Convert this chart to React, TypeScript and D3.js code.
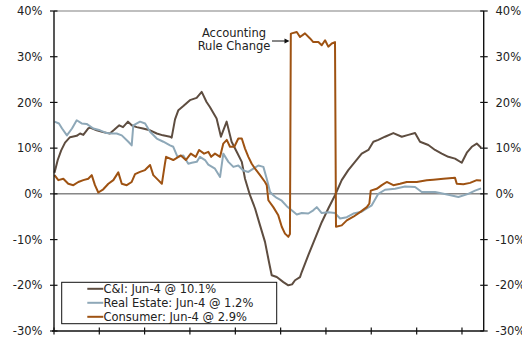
import React from "react";
import * as d3 from "d3";

// Year-over-year growth of bank loans by type, weekly (H.8), in percent.
const ciLoans: [string, number][] = [
  ["2005-01-05", 4.6], ["2005-01-31", 7.4], ["2005-02-28", 9.5], ["2005-03-31", 11.2],
  ["2005-05-10", 12.4], ["2005-07-03", 12.7], ["2005-07-30", 13.2], ["2005-08-25", 12.9],
  ["2005-10-04", 14.3], ["2005-10-18", 14.5], ["2005-12-11", 13.9], ["2006-01-31", 13.5],
  ["2006-03-27", 13.2], ["2006-05-01", 14.0], ["2006-06-11", 15.0], ["2006-07-11", 14.6],
  ["2006-08-20", 15.8], ["2006-09-19", 15.0], ["2006-10-29", 14.6], ["2006-12-19", 14.3],
  ["2007-02-14", 13.9], ["2007-04-09", 13.2], ["2007-05-29", 12.8], ["2007-07-25", 12.5],
  ["2007-08-07", 12.3], ["2007-09-03", 16.3], ["2007-09-30", 18.3], ["2007-11-09", 19.2],
  ["2008-01-01", 20.5], ["2008-02-24", 21.0], ["2008-04-05", 22.3], ["2008-05-14", 20.1],
  ["2008-06-10", 19.0], ["2008-08-03", 16.5], ["2008-09-07", 12.5], ["2008-10-23", 15.8],
  ["2008-12-02", 11.4], ["2009-01-12", 9.2], ["2009-02-22", 7.0], ["2009-03-20", 3.3],
  ["2009-04-29", -0.3], ["2009-06-09", -3.2], ["2009-07-19", -6.9], ["2009-08-28", -10.5],
  ["2009-09-29", -14.9], ["2009-10-21", -17.8], ["2009-12-01", -18.2], ["2010-01-23", -19.3],
  ["2010-03-04", -20.0], ["2010-04-03", -19.8], ["2010-04-27", -18.9], ["2010-06-06", -18.2],
  ["2010-06-20", -17.1], ["2010-08-12", -13.4], ["2010-10-05", -9.8], ["2010-11-28", -6.2],
  ["2011-01-20", -3.2], ["2011-03-15", -0.3], ["2011-05-08", 3.0], ["2011-06-30", 5.2],
  ["2011-08-23", 7.0], ["2011-10-16", 8.8], ["2011-12-09", 9.6], ["2012-01-18", 11.4],
  ["2012-02-27", 11.8], ["2012-04-21", 12.5], ["2012-06-27", 13.3], ["2012-09-03", 12.5],
  ["2012-10-26", 12.9], ["2012-12-19", 13.3], ["2013-01-28", 11.4], ["2013-04-05", 10.7],
  ["2013-05-29", 9.6], ["2013-07-22", 8.8], ["2013-09-13", 8.1], ["2013-11-06", 7.7],
  ["2013-12-30", 6.8], ["2014-02-09", 9.0], ["2014-03-21", 10.3], ["2014-04-30", 11.0],
  ["2014-06-04", 10.1],
];

const realEstateLoans: [string, number][] = [
  ["2005-01-05", 15.8], ["2005-02-10", 15.4], ["2005-03-07", 14.3], ["2005-04-15", 12.8],
  ["2005-05-26", 14.3], ["2005-07-03", 16.1], ["2005-08-12", 15.4], ["2005-09-21", 15.3],
  ["2005-11-14", 14.3], ["2006-01-07", 13.9], ["2006-03-02", 13.3], ["2006-04-11", 13.2],
  ["2006-05-21", 13.2], ["2006-07-01", 12.8], ["2006-08-23", 11.4], ["2006-09-19", 10.6],
  ["2006-10-02", 15.0], ["2006-11-25", 15.8], ["2007-01-05", 15.4], ["2007-02-14", 13.6],
  ["2007-04-09", 12.1], ["2007-06-01", 11.4], ["2007-07-25", 10.6], ["2007-08-20", 10.3],
  ["2007-09-23", 8.1], ["2007-11-09", 8.4], ["2007-12-19", 6.6], ["2008-01-16", 6.8],
  ["2008-02-25", 7.0], ["2008-03-22", 8.1], ["2008-05-02", 7.4], ["2008-05-28", 6.4],
  ["2008-07-21", 5.5], ["2008-08-31", 3.7], ["2008-09-26", 8.8], ["2008-11-06", 7.0],
  ["2008-12-16", 5.9], ["2009-01-25", 6.2], ["2009-03-06", 5.1], ["2009-04-16", 4.8],
  ["2009-05-26", 5.5], ["2009-07-05", 6.2], ["2009-08-15", 5.9], ["2009-09-11", 3.3],
  ["2009-10-08", 0.4], ["2009-11-03", -0.3], ["2009-12-01", -0.9], ["2010-01-10", -1.5],
  ["2010-02-19", -2.7], ["2010-03-31", -3.6], ["2010-05-11", -4.5], ["2010-06-20", -4.2],
  ["2010-08-12", -4.3], ["2010-09-21", -3.6], ["2010-10-19", -2.9], ["2010-11-28", -4.2],
  ["2011-01-20", -4.0], ["2011-03-15", -4.2], ["2011-04-25", -5.4], ["2011-06-18", -5.1],
  ["2011-08-10", -4.3], ["2011-10-16", -3.9], ["2011-11-26", -3.2], ["2012-01-05", -2.5],
  ["2012-02-27", 0.0], ["2012-04-21", 0.9], ["2012-07-11", 1.1], ["2012-09-29", 1.6],
  ["2012-12-19", 1.5], ["2013-02-11", 0.4], ["2013-05-29", 0.4], ["2013-09-13", -0.2],
  ["2013-12-03", -0.7], ["2014-02-21", 0.0], ["2014-04-16", 0.7], ["2014-06-04", 1.2],
];

const consumerLoans: [string, number][] = [
  ["2005-01-05", 4.1], ["2005-02-05", 3.0], ["2005-03-17", 3.3], ["2005-04-26", 2.2],
  ["2005-06-06", 1.9], ["2005-07-16", 2.6], ["2005-08-25", 3.0], ["2005-10-04", 3.3],
  ["2005-11-01", 4.1], ["2005-11-27", 1.9], ["2005-12-24", 0.3], ["2006-02-02", 1.0],
  ["2006-03-15", 2.2], ["2006-04-24", 3.0], ["2006-06-03", 4.7], ["2006-07-01", 2.2],
  ["2006-08-10", 1.9], ["2006-09-19", 2.6], ["2006-10-16", 4.3], ["2006-11-25", 4.8],
  ["2007-01-04", 5.2], ["2007-02-14", 6.3], ["2007-03-12", 4.1], ["2007-04-21", 3.0],
  ["2007-05-20", 2.2], ["2007-06-12", 6.3], ["2007-06-23", 8.1], ["2007-08-20", 7.4],
  ["2007-10-20", 8.4], ["2007-11-29", 7.4], ["2008-01-08", 8.8], ["2008-02-17", 8.1],
  ["2008-03-15", 9.6], ["2008-04-24", 8.8], ["2008-05-28", 9.2], ["2008-06-20", 8.1],
  ["2008-07-21", 8.8], ["2008-08-31", 8.1], ["2008-09-26", 11.0], ["2008-10-24", 11.8],
  ["2008-11-19", 10.3], ["2008-12-24", 10.3], ["2009-01-25", 12.1], ["2009-02-22", 12.1],
  ["2009-03-20", 9.9], ["2009-04-16", 8.1], ["2009-05-13", 6.6], ["2009-06-09", 5.5],
  ["2009-07-19", 4.1], ["2009-08-28", 2.6], ["2009-09-11", 1.9], ["2009-09-24", -1.4],
  ["2009-11-03", -2.9], ["2009-12-13", -4.7], ["2010-01-10", -7.2], ["2010-02-05", -8.7],
  ["2010-03-04", -9.4], ["2010-03-17", -8.8], ["2010-03-24", 35.0], ["2010-03-31", 35.1],
  ["2010-05-11", 35.4], ["2010-06-06", 34.3], ["2010-07-16", 35.1], ["2010-08-26", 34.0],
  ["2010-09-21", 33.2], ["2010-11-01", 33.2], ["2010-11-28", 32.5], ["2010-12-25", 33.6],
  ["2011-01-20", 32.2], ["2011-02-17", 32.9], ["2011-03-15", 33.2], ["2011-03-23", -7.2],
  ["2011-05-08", -6.9], ["2011-06-18", -5.8], ["2011-08-10", -5.0], ["2011-10-03", -4.0],
  ["2011-11-26", -2.9], ["2011-12-17", -2.1], ["2011-12-28", 0.7], ["2012-02-14", 1.1],
  ["2012-03-26", 1.9], ["2012-05-05", 2.6], ["2012-06-27", 1.9], ["2012-08-20", 2.2],
  ["2012-10-13", 2.6], ["2013-01-02", 2.6], ["2013-03-23", 3.0], ["2013-05-15", 3.1],
  ["2013-08-04", 3.3], ["2013-11-06", 3.5], ["2013-11-20", 2.2], ["2014-01-12", 2.1],
  ["2014-03-07", 2.4], ["2014-04-30", 3.0], ["2014-06-04", 2.9],
];

const seriesNames = ["C&I", "Real Estate", "Consumer"];
const seriesColors = ["#5e4d40", "#8ea8b8", "#9e5212"];
const legendLabels = [
  "C&I: Jun-4 @ 10.1%",
  "Real Estate: Jun-4 @ 1.2%",
  "Consumer: Jun-4 @ 2.9%",
];
const percentTicks = [-30, -20, -10, 0, 10, 20, 30, 40];
const yearTicks = [2005, 2006, 2007, 2008, 2009, 2010, 2011, 2012, 2013, 2014];
const annotationLines = ["Accounting", "Rule Change"];

const WIDTH = 522;
const HEIGHT = 339;
const plot = { left: 54, right: 483.7, top: 11, bottom: 331 };
const FONT = "'DejaVu Sans', Verdana, sans-serif";

export default function App() {
  const x = d3
    .scaleUtc()
    .domain([new Date("2005-01-01"), new Date("2014-06-25")])
    .range([plot.left, plot.right]);
  const y = d3.scaleLinear().domain([-30, 40]).range([plot.bottom, plot.top]);

  const line = d3
    .line<[string, number]>()
    .x((d) => x(new Date(d[0])))
    .y((d) => y(d[1]));

  const series = [ciLoans, realEstateLoans, consumerLoans];
  const pct = (v: number) => `${v}%`;

  const legend = { x: 61.7, y: 282.3, w: 215, h: 41.4 };
  const arrowY = 41;

  return (
    <svg
      width={WIDTH}
      height={HEIGHT}
      style={{ position: "absolute", left: 0, top: 0, background: "#fff" }}
      fontFamily={FONT}
    >
      {/* frame: grey top edge, zero line */}
      <line x1={plot.left} x2={plot.right} y1={plot.top} y2={plot.top} stroke="#808080" strokeWidth={1.2} />
      <line x1={plot.left} x2={plot.right} y1={y(0)} y2={y(0)} stroke="#4a4a4a" strokeWidth={1} />

      {series.map((s, i) => (
        <path
          key={seriesNames[i]}
          d={line(s) ?? ""}
          fill="none"
          stroke={seriesColors[i]}
          strokeWidth={2}
          strokeLinejoin="round"
        />
      ))}

      {/* left and right value axes */}
      <line x1={plot.left} x2={plot.left} y1={plot.top} y2={plot.bottom} stroke="#111" strokeWidth={1.4} />
      <line x1={plot.right} x2={plot.right} y1={plot.top} y2={plot.bottom} stroke="#111" strokeWidth={1.4} />
      {percentTicks.map((t) => (
        <g key={t}>
          <line x1={plot.left - 4} x2={plot.left + 3.5} y1={y(t)} y2={y(t)} stroke="#111" strokeWidth={1.2} />
          <line x1={plot.right - 3.5} x2={plot.right + 4} y1={y(t)} y2={y(t)} stroke="#111" strokeWidth={1.2} />
          <text x={42.5} y={y(t)} dy="0.36em" textAnchor="end" fontSize={11.5} fill="#222">
            {pct(t)}
          </text>
          <text x={495.5} y={y(t)} dy="0.36em" textAnchor="start" fontSize={11.5} fill="#222">
            {pct(t)}
          </text>
        </g>
      ))}

      {/* time axis */}
      <line x1={plot.left - 2} x2={plot.right} y1={plot.bottom} y2={plot.bottom} stroke="#111" strokeWidth={1.4} />
      {yearTicks.map((yr) => {
        const xx = x(new Date(Date.UTC(yr, 0, 1)));
        return (
          <line key={yr} x1={xx} x2={xx} y1={plot.bottom - 3.5} y2={plot.bottom + 3.5} stroke="#111" strokeWidth={1.2} />
        );
      })}

      {/* legend */}
      <rect x={legend.x} y={legend.y} width={legend.w} height={legend.h} fill="#fff" stroke="#111" strokeWidth={1} />
      {legendLabels.map((label, i) => {
        const ly = legend.y + 6.5 + i * 14;
        return (
          <g key={label}>
            <line x1={87.3} x2={103.3} y1={ly} y2={ly} stroke={seriesColors[i]} strokeWidth={2} />
            <text x={103.5} y={ly} dy="0.36em" fontSize={11.5} fill="#222">
              {label}
            </text>
          </g>
        );
      })}

      {/* annotation for the consumer loan break */}
      {annotationLines.map((t, i) => (
        <text key={t} x={234} y={37 + i * 13} textAnchor="middle" fontSize={11.5} fill="#222">
          {t}
        </text>
      ))}
      <line x1={272} x2={285} y1={arrowY} y2={arrowY} stroke="#111" strokeWidth={1} />
      <path d={`M${289.5},${arrowY} L${284.5},${arrowY - 2.5} L${284.5},${arrowY + 2.5} Z`} fill="#111" />
    </svg>
  );
}
